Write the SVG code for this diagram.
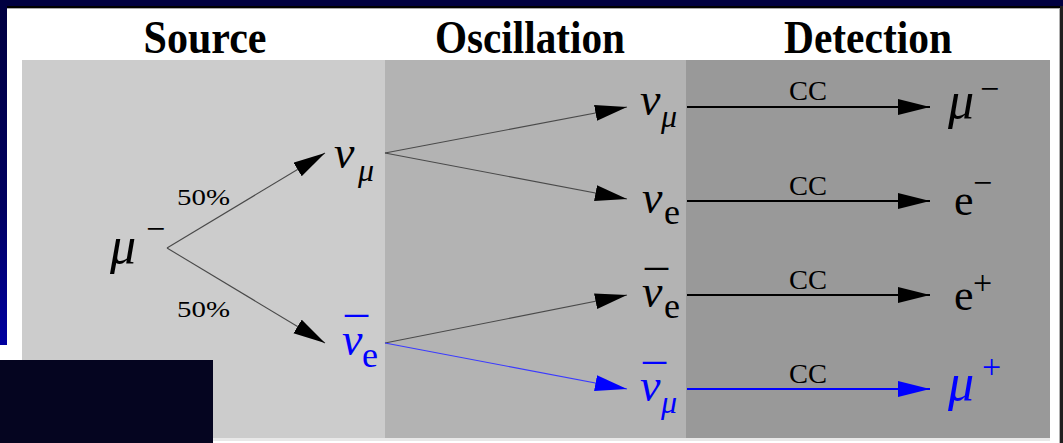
<svg xmlns="http://www.w3.org/2000/svg" width="1063" height="443" viewBox="0 0 1063 443" font-family="Liberation Serif, serif">
<style>
.title{font-weight:bold;font-size:46px;fill:#000;text-anchor:middle}
.g{font-style:italic;font-size:46px;fill:#000}
.gm{font-style:italic;font-size:52px;fill:#000}
.bar{font-style:normal;font-size:46px}
.sub{font-style:normal;font-size:36px}
.subi{font-style:italic;font-size:32px}
.pct{font-size:24px;fill:#000}
.cc{font-size:28px;fill:#000;text-anchor:middle}
.up{font-size:44px;fill:#000}
.sup{font-style:normal;font-size:34px}
.blue{fill:#0000ff}
.thin{stroke:#4a4a4a;stroke-width:1.1;fill:none}
.thinb{stroke:#3a3aff;stroke-width:1.2;fill:none}
.thick{stroke:#000;stroke-width:2;fill:none}
.thickb{stroke:#0000ff;stroke-width:2.2;fill:none}
</style>
<defs>
<linearGradient id="strip" x1="0" y1="0" x2="0" y2="1">
<stop offset="0" stop-color="#000040"/>
<stop offset="0.6" stop-color="#000060"/>
<stop offset="1" stop-color="#0000a0"/>
</linearGradient>
<marker id="ah" markerUnits="userSpaceOnUse" markerWidth="34" markerHeight="18" refX="32" refY="8" orient="auto">
<path d="M0,0 L32,8 L0,16 z" fill="#000"/>
</marker>
<marker id="ahb" markerUnits="userSpaceOnUse" markerWidth="34" markerHeight="18" refX="32" refY="8" orient="auto">
<path d="M0,0 L32,8 L0,16 z" fill="#0000ff"/>
</marker>
</defs>
<g id="background">
<rect x="0" y="0" width="1063" height="443" fill="#ffffff"/>
<rect x="0" y="0" width="1063" height="6" fill="#000040"/>
<rect x="0" y="6" width="1063" height="2" fill="#000000"/>
<rect x="0" y="8" width="1063" height="1" fill="#a8a8a8"/>
<rect x="0" y="0" width="7" height="345" fill="url(#strip)"/>
<rect x="1059" y="8" width="1" height="435" fill="#b0b0b0"/>
<rect x="1060" y="6" width="3" height="437" fill="#202020"/>
<rect x="22" y="60" width="1028" height="381" fill="#e8e8e8"/>
<rect x="22" y="60" width="363" height="378" fill="#cccccc"/>
<rect x="385" y="60" width="301" height="378" fill="#b3b3b3"/>
<rect x="686" y="60" width="364" height="378" fill="#999999"/>
<rect x="0" y="360" width="213" height="83" fill="#050520"/>
</g>
<g id="titles">
<text class="title" x="205" y="53" textLength="123" lengthAdjust="spacingAndGlyphs">Source</text>
<text class="title" x="530" y="53" textLength="190" lengthAdjust="spacingAndGlyphs">Oscillation</text>
<text class="title" x="868" y="53" textLength="168" lengthAdjust="spacingAndGlyphs">Detection</text>
</g>
<g id="connectors">
<line class="thin" x1="167" y1="248" x2="325" y2="153" marker-end="url(#ah)"/>
<line class="thin" x1="167" y1="248" x2="325" y2="343" marker-end="url(#ah)"/>
<line class="thin" x1="385" y1="153" x2="627" y2="107" marker-end="url(#ah)"/>
<line class="thin" x1="385" y1="153" x2="627" y2="199" marker-end="url(#ah)"/>
<line class="thin" x1="385" y1="343" x2="627" y2="295" marker-end="url(#ah)"/>
<line class="thinb" x1="385" y1="343" x2="627" y2="389" marker-end="url(#ahb)"/>
<line class="thick" x1="687" y1="107" x2="930" y2="107" marker-end="url(#ah)"/>
<line class="thick" x1="687" y1="201" x2="930" y2="201" marker-end="url(#ah)"/>
<line class="thick" x1="687" y1="295" x2="930" y2="295" marker-end="url(#ah)"/>
<line class="thickb" x1="687" y1="389" x2="930" y2="389" marker-end="url(#ahb)"/>
<text class="pct" x="177" y="205" textLength="53" lengthAdjust="spacingAndGlyphs">50%</text>
<text class="pct" x="177" y="317" textLength="53" lengthAdjust="spacingAndGlyphs">50%</text>
<text class="cc" x="808" y="100" textLength="38" lengthAdjust="spacingAndGlyphs">CC</text>
<text class="cc" x="808" y="195" textLength="38" lengthAdjust="spacingAndGlyphs">CC</text>
<text class="cc" x="808" y="289" textLength="38" lengthAdjust="spacingAndGlyphs">CC</text>
<text class="cc" x="808" y="383" textLength="38" lengthAdjust="spacingAndGlyphs">CC</text>
</g>
<g id="node-muon">
<text class="gm" x="110" y="263">μ<tspan class="sup" x="146" y="240">−</tspan></text>
</g>
<g id="node-src-numu">
<text class="g" x="334" y="168">ν<tspan class="subi" x="358" y="181">μ</tspan></text>
</g>
<g id="node-src-nuebar">
<text class="g blue"><tspan class="bar" x="345" y="350">¯</tspan><tspan x="342" y="355">ν</tspan><tspan class="sub" x="362" y="367">e</tspan></text>
</g>
<g id="node-osc-numu">
<text class="g" x="640" y="115">ν<tspan class="subi" x="661" y="127">μ</tspan></text>
</g>
<g id="node-osc-nue">
<text class="g" x="642" y="213">ν<tspan class="sub" x="664" y="224">e</tspan></text>
</g>
<g id="node-osc-nuebar">
<text class="g"><tspan class="bar" x="645" y="303">¯</tspan><tspan x="642" y="307">ν</tspan><tspan class="sub" x="664" y="318">e</tspan></text>
</g>
<g id="node-osc-numubar">
<text class="g blue"><tspan class="bar" x="643" y="397">¯</tspan><tspan x="640" y="401">ν</tspan><tspan class="subi" x="661" y="413">μ</tspan></text>
</g>
<g id="node-det-muminus">
<text class="gm" x="948" y="118">μ<tspan class="sup" x="980" y="100">−</tspan></text>
</g>
<g id="node-det-eminus">
<text class="up" x="954" y="215">e<tspan class="sup" x="973" y="194">−</tspan></text>
</g>
<g id="node-det-eplus">
<text class="up" x="954" y="310">e<tspan class="sup" x="973" y="294">+</tspan></text>
</g>
<g id="node-det-muplus">
<text class="gm blue" x="948" y="400">μ<tspan class="sup" x="982" y="378">+</tspan></text>
</g>
</svg>
